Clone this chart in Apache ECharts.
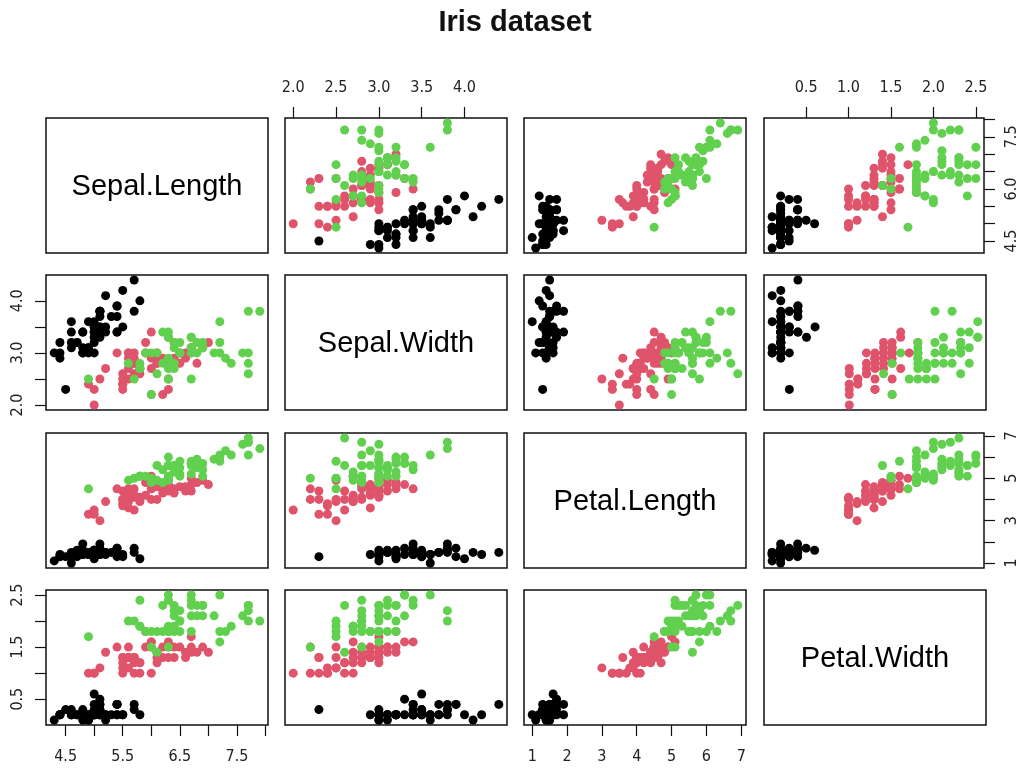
<!DOCTYPE html>
<html>
<head>
<meta charset="utf-8">
<script src="https://cdn.jsdelivr.net/npm/echarts@6/dist/echarts.min.js"></script>
<style>
  html, body { margin: 0; padding: 0; background: #ffffff; }
  #chart { width: 1020px; height: 769px; }
</style>
</head>
<body>
<div id="chart"></div>
<script>
// Edgar Anderson's iris measurements (cm), 150 flowers
const varNames = ['Sepal.Length', 'Sepal.Width', 'Petal.Length', 'Petal.Width'];

const sepalLength = [
  5.1,4.9,4.7,4.6,5.0,5.4,4.6,5.0,4.4,4.9,5.4,4.8,4.8,4.3,5.8,5.7,5.4,5.1,5.7,5.1,5.4,5.1,4.6,5.1,4.8,
  5.0,5.0,5.2,5.2,4.7,4.8,5.4,5.2,5.5,4.9,5.0,5.5,4.9,4.4,5.1,5.0,4.5,4.4,5.0,5.1,4.8,5.1,4.6,5.3,5.0,
  7.0,6.4,6.9,5.5,6.5,5.7,6.3,4.9,6.6,5.2,5.0,5.9,6.0,6.1,5.6,6.7,5.6,5.8,6.2,5.6,5.9,6.1,6.3,6.1,6.4,
  6.6,6.8,6.7,6.0,5.7,5.5,5.5,5.8,6.0,5.4,6.0,6.7,6.3,5.6,5.5,5.5,6.1,5.8,5.0,5.6,5.7,5.7,6.2,5.1,5.7,
  6.3,5.8,7.1,6.3,6.5,7.6,4.9,7.3,6.7,7.2,6.5,6.4,6.8,5.7,5.8,6.4,6.5,7.7,7.7,6.0,6.9,5.6,7.7,6.3,6.7,
  7.2,6.2,6.1,6.4,7.2,7.4,7.9,6.4,6.3,6.1,7.7,6.3,6.4,6.0,6.9,6.7,6.9,5.8,6.8,6.7,6.7,6.3,6.5,6.2,5.9
];
const sepalWidth = [
  3.5,3.0,3.2,3.1,3.6,3.9,3.4,3.4,2.9,3.1,3.7,3.4,3.0,3.0,4.0,4.4,3.9,3.5,3.8,3.8,3.4,3.7,3.6,3.3,3.4,
  3.0,3.4,3.5,3.4,3.2,3.1,3.4,4.1,4.2,3.1,3.2,3.5,3.6,3.0,3.4,3.5,2.3,3.2,3.5,3.8,3.0,3.8,3.2,3.7,3.3,
  3.2,3.2,3.1,2.3,2.8,2.8,3.3,2.4,2.9,2.7,2.0,3.0,2.2,2.9,2.9,3.1,3.0,2.7,2.2,2.5,3.2,2.8,2.5,2.8,2.9,
  3.0,2.8,3.0,2.9,2.6,2.4,2.4,2.7,2.7,3.0,3.4,3.1,2.3,3.0,2.5,2.6,3.0,2.6,2.3,2.7,3.0,2.9,2.9,2.5,2.8,
  3.3,2.7,3.0,2.9,3.0,3.0,2.5,2.9,2.5,3.6,3.2,2.7,3.0,2.5,2.8,3.2,3.0,3.8,2.6,2.2,3.2,2.8,2.8,2.7,3.3,
  3.2,2.8,3.0,2.8,3.0,2.8,3.8,2.8,2.8,2.6,3.0,3.4,3.1,3.0,3.1,3.1,3.1,2.7,3.2,3.3,3.0,2.5,3.0,3.4,3.0
];
const petalLength = [
  1.4,1.4,1.3,1.5,1.4,1.7,1.4,1.5,1.4,1.5,1.5,1.6,1.4,1.1,1.2,1.5,1.3,1.4,1.7,1.5,1.7,1.5,1.0,1.7,1.9,
  1.6,1.6,1.5,1.4,1.6,1.6,1.5,1.5,1.4,1.5,1.2,1.3,1.4,1.3,1.5,1.3,1.3,1.3,1.6,1.9,1.4,1.6,1.4,1.5,1.4,
  4.7,4.5,4.9,4.0,4.6,4.5,4.7,3.3,4.6,3.9,3.5,4.2,4.0,4.7,3.6,4.4,4.5,4.1,4.5,3.9,4.8,4.0,4.9,4.7,4.3,
  4.4,4.8,5.0,4.5,3.5,3.8,3.7,3.9,5.1,4.5,4.5,4.7,4.4,4.1,4.0,4.4,4.6,4.0,3.3,4.2,4.2,4.2,4.3,3.0,4.1,
  6.0,5.1,5.9,5.6,5.8,6.6,4.5,6.3,5.8,6.1,5.1,5.3,5.5,5.0,5.1,5.3,5.5,6.7,6.9,5.0,5.7,4.9,6.7,4.9,5.7,
  6.0,4.8,4.9,5.6,5.8,6.1,6.4,5.6,5.1,5.6,6.1,5.6,5.5,4.8,5.4,5.6,5.1,5.1,5.9,5.7,5.2,5.0,5.2,5.4,5.1
];
const petalWidth = [
  0.2,0.2,0.2,0.2,0.2,0.4,0.3,0.2,0.2,0.1,0.2,0.2,0.1,0.1,0.2,0.4,0.4,0.3,0.3,0.3,0.2,0.4,0.2,0.5,0.2,
  0.2,0.4,0.2,0.2,0.2,0.2,0.4,0.1,0.2,0.2,0.2,0.2,0.1,0.2,0.2,0.3,0.3,0.2,0.6,0.4,0.3,0.2,0.2,0.2,0.2,
  1.4,1.5,1.5,1.3,1.5,1.3,1.6,1.0,1.3,1.4,1.0,1.5,1.0,1.4,1.3,1.4,1.5,1.0,1.5,1.1,1.8,1.3,1.5,1.2,1.3,
  1.4,1.4,1.7,1.5,1.0,1.1,1.0,1.2,1.6,1.5,1.6,1.5,1.3,1.3,1.3,1.2,1.4,1.2,1.0,1.3,1.2,1.3,1.3,1.1,1.3,
  2.5,1.9,2.1,1.8,2.2,2.1,1.7,1.8,1.8,2.5,2.0,1.9,2.1,2.0,2.4,2.3,1.8,2.2,2.3,1.5,2.3,2.0,2.0,1.8,2.1,
  1.8,1.8,1.8,2.1,1.6,1.9,2.0,2.2,1.5,1.4,2.3,2.4,1.8,1.8,2.1,2.4,2.3,1.9,2.3,2.5,2.3,1.9,2.0,2.3,1.8
];
// species code per flower: 1 = setosa, 2 = versicolor, 3 = virginica
const species = [
  1,1,1,1,1,1,1,1,1,1,1,1,1,1,1,1,1,1,1,1,1,1,1,1,1,1,1,1,1,1,1,1,1,1,1,1,1,1,1,1,1,1,1,1,1,1,1,1,1,1,
  2,2,2,2,2,2,2,2,2,2,2,2,2,2,2,2,2,2,2,2,2,2,2,2,2,2,2,2,2,2,2,2,2,2,2,2,2,2,2,2,2,2,2,2,2,2,2,2,2,2,
  3,3,3,3,3,3,3,3,3,3,3,3,3,3,3,3,3,3,3,3,3,3,3,3,3,3,3,3,3,3,3,3,3,3,3,3,3,3,3,3,3,3,3,3,3,3,3,3,3,3
];
const speciesNames = ['setosa', 'versicolor', 'virginica'];
const speciesColors = ['#000000', '#DF536B', '#61D04F'];

// tick positions per variable, and which of them carry a label on each side
const tickValues = [
  [4.5, 5.0, 5.5, 6.0, 6.5, 7.0, 7.5, 8.0],
  [2.0, 2.5, 3.0, 3.5, 4.0],
  [1, 2, 3, 4, 5, 6, 7],
  [0.5, 1.0, 1.5, 2.0, 2.5]
];
const labelsBottom = [[4.5, 5.5, 6.5, 7.5], null, [1, 2, 3, 4, 5, 6, 7], null];
const labelsTop    = [null, [2.0, 2.5, 3.0, 3.5, 4.0], null, [0.5, 1.0, 1.5, 2.0, 2.5]];
const labelsLeft   = [null, [2.0, 3.0, 4.0], null, [0.5, 1.5, 2.5]];
const labelsRight  = [[4.5, 6.0, 7.5], null, [1, 3, 5, 7], null];
const labelDigits  = [1, 1, 0, 1];

const columns = [sepalLength, sepalWidth, petalLength, petalWidth];

// panel layout (pixels)
const colLeft = [46, 285, 524, 764];
const rowTop = [118, 275, 433, 590];
const panelW = 222;
const panelH = 135;

const tickFont = "'Liberation Sans Narrow', 'DejaVu Sans Condensed', 'Liberation Sans', sans-serif";

// axis range: data range widened by 4% on each side
function axisRange(values) {
  const lo = Math.min.apply(null, values);
  const hi = Math.max.apply(null, values);
  const pad = (hi - lo) * 0.04;
  return [lo - pad, hi + pad];
}
const ranges = columns.map(axisRange);

const grids = [], xAxes = [], yAxes = [], series = [], graphics = [];

for (let r = 0; r < 4; r++) {
  for (let c = 0; c < 4; c++) {
    const gi = grids.length;
    grids.push({
      left: colLeft[c], top: rowTop[r], width: panelW, height: panelH,
      show: true, borderColor: '#111', borderWidth: 1.5, backgroundColor: 'transparent',
      containLabel: false
    });

    let xSide = null, xLabels = null;
    if (r === 0 && c % 2 === 1) { xSide = 'top'; xLabels = labelsTop[c]; }
    if (r === 3 && c % 2 === 0) { xSide = 'bottom'; xLabels = labelsBottom[c]; }
    let ySide = null, yLabels = null;
    if (c === 0 && r % 2 === 1) { ySide = 'left'; yLabels = labelsLeft[r]; }
    if (c === 3 && r % 2 === 0) { ySide = 'right'; yLabels = labelsRight[r]; }

    xAxes.push({
      gridIndex: gi, type: 'value', position: xSide || 'bottom',
      min: ranges[c][0], max: ranges[c][1],
      axisLine: { show: false }, splitLine: { show: false },
      axisTick: {
        show: !!xSide, customValues: tickValues[c], length: 11,
        lineStyle: { color: '#111', width: 1.2 }
      },
      axisLabel: {
        show: !!xSide, customValues: xLabels || [], hideOverlap: false,
        margin: xSide === 'top' ? 22 : 24,
        fontFamily: tickFont, fontSize: 16, color: '#222',
        formatter: (v) => Number(v).toFixed(labelDigits[c])
      }
    });
    yAxes.push({
      gridIndex: gi, type: 'value', position: ySide || 'left',
      min: ranges[r][0], max: ranges[r][1],
      axisLine: { show: false }, splitLine: { show: false },
      axisTick: {
        show: !!ySide, customValues: tickValues[r], length: 11,
        lineStyle: { color: '#111', width: 1.2 }
      },
      axisLabel: {
        show: !!ySide, customValues: yLabels || [], hideOverlap: false,
        rotate: 90, margin: 20,
        fontFamily: tickFont, fontSize: 16, color: '#222',
        formatter: (v) => Number(v).toFixed(labelDigits[r])
      }
    });

    if (r === c) {
      graphics.push({
        type: 'text', silent: true,
        x: colLeft[c] + panelW / 2, y: rowTop[r] + panelH / 2 + 1,
        style: {
          text: varNames[r], fill: '#000',
          font: "29px 'Liberation Sans', Arial, sans-serif",
          textAlign: 'center', textVerticalAlign: 'middle'
        }
      });
      continue;
    }

    for (let s = 0; s < 3; s++) {
      const pts = [];
      for (let k = 0; k < species.length; k++) {
        if (species[k] === s + 1) pts.push([columns[c][k], columns[r][k]]);
      }
      series.push({
        type: 'scatter', name: speciesNames[s],
        xAxisIndex: gi, yAxisIndex: gi,
        data: pts, symbol: 'circle', symbolSize: 9,
        itemStyle: { color: speciesColors[s], opacity: 1 },
        emphasis: { disabled: true }, silent: true
      });
    }
  }
}

graphics.push({
  type: 'text', silent: true, x: 515, y: 23,
  style: {
    text: 'Iris dataset', fill: '#111',
    font: "bold 29px 'Liberation Sans', Arial, sans-serif",
    textAlign: 'center', textVerticalAlign: 'middle'
  }
});

const chart = echarts.init(document.getElementById('chart'), null, { renderer: 'canvas' });
chart.setOption({
  animation: false,
  backgroundColor: '#ffffff',
  grid: grids,
  xAxis: xAxes,
  yAxis: yAxes,
  series: series,
  graphic: graphics
});
</script>
</body>
</html>
